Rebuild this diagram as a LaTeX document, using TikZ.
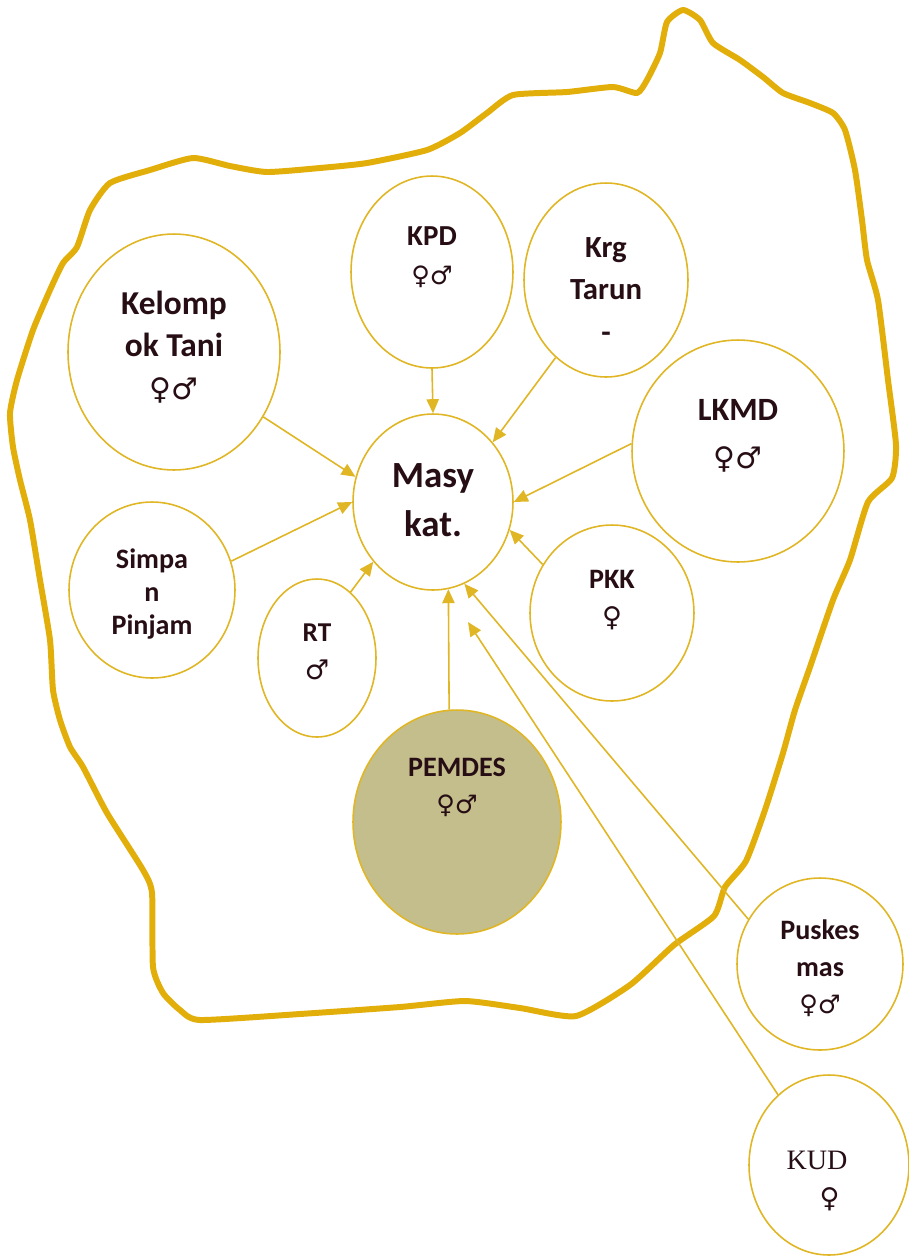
\documentclass[tikz,border=0pt]{standalone}
\usepackage{fontspec}
\setmainfont{Carlito}
\newfontfamily\symfont{DejaVu Sans}
\newfontfamily\kudfont{Liberation Serif}
\usetikzlibrary{arrows.meta, shapes.geometric}

\definecolor{gold}{RGB}{226,174,10}
\definecolor{ringgold}{RGB}{224,182,36}
\definecolor{pemdesfill}{RGB}{196,190,140}
\definecolor{ink}{RGB}{38,14,20}

\newcommand{\fm}[1]{{\symfont\mdseries\fontsize{#1}{#1}\selectfont ♀♂}}

\begin{document}
\begin{tikzpicture}[
    x=0.02cm, y=-0.02cm,
    org/.style={ellipse, draw=ringgold, line width=0.9pt, inner sep=0pt},
    lbl/.style={align=center, text=ink, inner sep=0pt},
    arrow/.style={-{Triangle[length=8pt, width=7pt]}, draw=ringgold, line width=0.9pt},
    border/.style={draw=gold, line width=3.4pt, line join=round}
]
\useasboundingbox (0,0) rectangle (909,1259);
\fill[white] (0,0) rectangle (909,1259);

% batas desa
\draw[border] plot[smooth cycle, tension=0.35] coordinates {
    (110,183) (150,170) (193,158) (230,166) (267,172) (320,168) (367,163)
    (427,150) (460,133) (487,113) (513,95) (567,92) (613,87) (637,93)
    (647,80) (660,53) (667,22) (683,10) (700,20) (713,43) (740,60)
    (763,77) (783,93) (810,103) (833,113) (845,130) (855,170) (862,220)
    (867,260) (878,300) (888,380) (896,445) (892,478) (868,502) (850,560)
    (833,600) (810,667) (795,710) (783,753) (765,810) (746,861) (725,887)
    (714,916) (674,945) (630,985) (576,1016) (520,1008) (465,1001) (400,1007)
    (300,1014) (200,1020) (180,1010) (163,993) (153,967) (152,893) (143,870)
    (107,813) (83,767) (70,747) (60,720) (53,690) (50,640) (40,580)
    (30,520) (20,480) (13,447) (10,413) (17,380) (33,330) (50,290)
    (63,263) (77,247) (90,210)};

% lembaga
\node[org, minimum width=4.24cm, minimum height=4.72cm] (kel) at (174,352) {};
\node[org, minimum width=3.24cm, minimum height=3.84cm] (kpd) at (432,272) {};
\node[org, minimum width=3.28cm, minimum height=3.88cm] (krg) at (606,280) {};
\node[org, minimum width=4.24cm, minimum height=4.44cm] (lkmd) at (738,451) {};
\node[org, minimum width=3.2cm, minimum height=3.52cm] (masy) at (433,502) {};
\node[org, minimum width=3.32cm, minimum height=3.52cm] (simpan) at (152,590) {};
\node[org, minimum width=2.36cm, minimum height=3.16cm] (rt) at (317,658) {};
\node[org, minimum width=3.28cm, minimum height=3.52cm] (pkk) at (612,613) {};
\node[org, fill=pemdesfill, minimum width=4.16cm, minimum height=4.48cm] (pemdes) at (457,822) {};
\node[org, minimum width=3.32cm, minimum height=3.44cm] (pusk) at (820,964) {};
\node[org, minimum width=3.2cm, minimum height=3.6cm] (kud) at (829,1165) {};

% teks
\node[lbl, font=\bfseries\fontsize{19}{24}\selectfont] (kel-txt) at (174,347) {Kelomp\\ok Tani\\\fm{17}};
\node[lbl, font=\bfseries\fontsize{16.5}{22}\selectfont] (kpd-txt) at (432,257) {KPD\\\fm{14.5}};
\node[lbl, font=\bfseries\fontsize{17.5}{24}\selectfont] (krg-txt) at (606,290) {Krg\\Tarun\\-};
\node[lbl, font=\bfseries\fontsize{18.5}{27}\selectfont] (lkmd-txt) at (738,436) {LKMD\\\fm{17}};
\node[lbl, font=\bfseries\fontsize{21}{28}\selectfont] (masy-txt) at (433,500) {Masy\\kat.};
\node[lbl, font=\bfseries\fontsize{16}{19}\selectfont] (simpan-txt) at (152,594) {Simpa\\n\\Pinjam};
\node[lbl, font=\bfseries\fontsize{15.5}{22}\selectfont] (rt-txt) at (317,652) {RT\\{\symfont\mdseries\fontsize{15.5}{15.5}\selectfont ♂}};
\node[lbl, font=\bfseries\fontsize{16}{22}\selectfont] (pkk-txt) at (612,600) {PKK\\{\symfont\mdseries\fontsize{15.5}{15.5}\selectfont ♀}};
\node[lbl, font=\bfseries\fontsize{16}{21}\selectfont] (pemdes-txt) at (457,787) {PEMDES\\\fm{14.5}};
\node[lbl, font=\bfseries\fontsize{16}{21}\selectfont] (pusk-txt) at (820,968) {Puskes\\mas\\\fm{14.5}};
\node[lbl, font=\kudfont\fontsize{16}{22}\selectfont] (kud-txt) at (817,1181) {KUD\\\hspace*{0.5cm}{\symfont\fontsize{15.5}{15.5}\selectfont ♀}};

\coordinate (kud-end) at (468,622);

% hubungan
\draw[arrow] (kel.-36) -- (masy.162);
\draw[arrow] (kpd.-90) -- (masy.90);
\draw[arrow] (krg.-123) -- (masy.45);
\draw[arrow] (lkmd.176) -- (masy.0);
\draw[arrow] (simpan.20) -- (masy.180);
\draw[arrow] (rt.63) -- (masy.-135);
\draw[arrow] (pkk.145) -- (masy.-20);
\draw[arrow] (pemdes.94) -- (masy.-80);
\draw[arrow] (pusk.148) -- (masy.-69);
\draw[arrow] (kud.126) -- (kud-end);
\end{tikzpicture}
\end{document}
